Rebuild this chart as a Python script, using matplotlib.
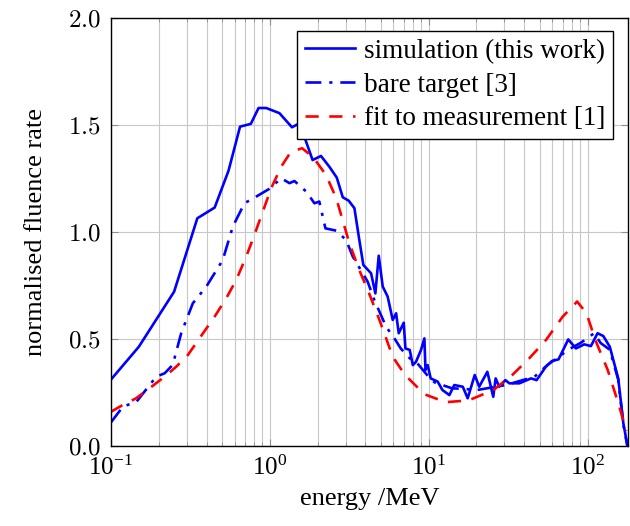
#!/usr/bin/env python3
"""Neutron fluence spectrum: simulation vs bare target vs measurement fit."""

import matplotlib
matplotlib.use("Agg")
import matplotlib.pyplot as plt
from matplotlib.ticker import LogLocator, MultipleLocator, FuncFormatter, NullFormatter

# simulation (this work)
sim_e = [0.1, 0.15, 0.25, 0.35, 0.45, 0.55, 0.65, 0.76, 0.85, 0.95, 1.15, 1.38,
         1.54, 1.86, 2.1, 2.37, 2.64, 2.88, 3.14, 3.41, 3.66, 3.88, 4.34, 4.62,
         4.85, 5.14, 5.52, 5.94, 6.24, 6.48, 6.97, 7.14, 7.6, 7.95, 8.33, 8.95,
         9.4, 9.55, 9.86, 10.3, 11.4, 12.2, 13.5, 14.5, 16.4, 17.6, 19.5, 20.8,
         23.4, 25.5, 26.4, 27.8, 30.4, 32.2, 37.2, 44.1, 47.8, 54.7, 59.7, 65.7,
         75.6, 84.5, 95.3, 105, 115.6, 125.6, 138, 156, 168, 178]
sim_y = [0.31, 0.464, 0.721, 1.064, 1.114, 1.286, 1.492, 1.505, 1.579, 1.579,
         1.555, 1.489, 1.508, 1.336, 1.355, 1.305, 1.254, 1.162, 1.146, 1.111,
         0.963, 0.846, 0.807, 0.713, 0.889, 0.745, 0.698, 0.589, 0.62, 0.527,
         0.576, 0.456, 0.449, 0.378, 0.394, 0.449, 0.503, 0.355, 0.378, 0.316,
         0.301, 0.262, 0.238, 0.285, 0.277, 0.223, 0.332, 0.277, 0.347, 0.23,
         0.316, 0.277, 0.308, 0.293, 0.293, 0.316, 0.308, 0.371, 0.397, 0.405,
         0.498, 0.456, 0.475, 0.467, 0.527, 0.514, 0.464, 0.316, 0.106, 0.005]

# bare target [3]
bare_e = [0.1, 0.119, 0.145, 0.193, 0.218, 0.245, 0.277, 0.328, 0.398, 0.506,
          0.585, 0.693, 0.821, 0.986, 1.18, 1.33, 1.43, 1.7, 1.91, 2.05, 2.24,
          2.62, 3.02, 3.33, 4.13, 4.55, 5.4, 6.09, 6.67, 7.6, 8.5, 10.4, 11.0,
          14.0, 20.3, 30.6, 46.4, 56, 76.5, 91, 110, 121, 138, 156, 168, 178]
bare_y = [0.11, 0.184, 0.207, 0.324, 0.34, 0.379, 0.527, 0.667, 0.744, 0.869,
          1.025, 1.134, 1.165, 1.2, 1.251, 1.228, 1.238, 1.188, 1.134, 1.142,
          1.017, 1.006, 0.963, 0.885, 0.768, 0.682, 0.557, 0.503, 0.456, 0.41,
          0.386, 0.308, 0.296, 0.27, 0.262, 0.285, 0.324, 0.379, 0.452, 0.483,
          0.527, 0.481, 0.45, 0.31, 0.1, 0.0]

# fit to measurement [1]
fit_e = [0.1, 0.119, 0.144, 0.175, 0.218, 0.258, 0.305, 0.361, 0.449, 0.532,
         0.615, 0.711, 0.8, 0.904, 1.02, 1.18, 1.36, 1.6, 1.88, 2.26, 2.62,
         3.17, 3.66, 4.22, 4.9, 5.4, 5.94, 7.1, 9.4, 12.8, 17.8, 25.6, 33.6,
         43, 54.7, 69.7, 86, 98.5, 112, 134, 158.6, 175]
fit_y = [0.16, 0.192, 0.223, 0.27, 0.324, 0.371, 0.425, 0.503, 0.604, 0.69,
         0.776, 0.885, 0.986, 1.095, 1.204, 1.305, 1.375, 1.391, 1.348, 1.266,
         1.158, 0.947, 0.822, 0.713, 0.589, 0.503, 0.417, 0.332, 0.242, 0.205,
         0.213, 0.262, 0.332, 0.41, 0.495, 0.604, 0.675, 0.62, 0.495, 0.355,
         0.184, 0.07]

plt.rcParams["font.family"] = ["Liberation Serif", "DejaVu Serif"]
plt.rcParams["mathtext.fontset"] = "cm"

fig = plt.figure(figsize=(6.3, 5.26), dpi=100)
ax = fig.add_axes([0.176, 0.152, 0.821, 0.814])

ax.plot(sim_e, sim_y, color="#0000ff", lw=1.9, label="simulation (this work)")
ax.plot(bare_e, bare_y, color="#0000ff", lw=1.9, dashes=(6, 3, 1.2, 3),
        label="bare target [3]")
ax.plot(fit_e, fit_y, color="#ff0000", lw=1.9, dashes=(5, 4),
        label="fit to measurement [1]")

ax.set_xscale("log")
ax.set_xlim(0.1, 180)
ax.set_ylim(0, 2.0)
ax.xaxis.set_major_locator(LogLocator(base=10, numticks=10))
ax.xaxis.set_minor_locator(LogLocator(base=10, subs=range(2, 10), numticks=20))
ax.xaxis.set_minor_formatter(NullFormatter())
ax.yaxis.set_major_locator(MultipleLocator(0.5))
ax.yaxis.set_major_formatter(FuncFormatter(lambda v, p: f"${v:.1f}$"))

ax.grid(True, which="both", axis="x", color="#c8c8c8", lw=0.8)
ax.grid(True, which="major", axis="y", color="#c8c8c8", lw=0.8)
ax.set_axisbelow(True)

ax.tick_params(which="both", direction="in", top=True, right=True,
               color="#909090", labelsize=18, pad=7)
ax.tick_params(which="major", length=5)
ax.tick_params(which="minor", length=3)
for s in ax.spines.values():
    s.set_linewidth(1.0)

ax.set_xlabel("energy /MeV", fontsize=19, labelpad=6)
ax.set_ylabel("normalised fluence rate", fontsize=19, labelpad=15)

leg = ax.legend(loc="upper right", bbox_to_anchor=(0.971, 0.970),
                borderaxespad=0, fontsize=19.5, frameon=True, fancybox=False,
                edgecolor="black", framealpha=1, handlelength=1.85,
                labelspacing=0.32, handletextpad=0.3, borderpad=0.3)
leg.get_frame().set_linewidth(1.0)

fig.savefig("out.png", dpi=100)
